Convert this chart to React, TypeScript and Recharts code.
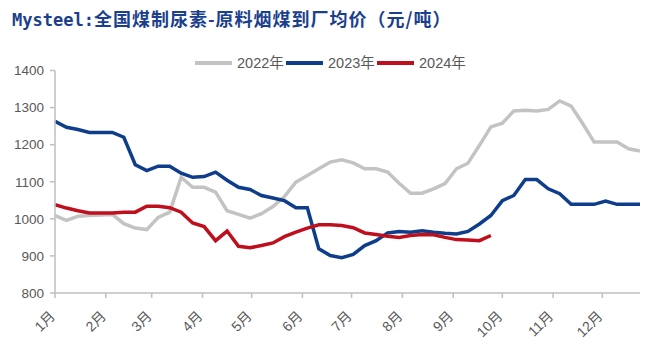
import React from 'react';
import { LineChart, Line, XAxis, YAxis, Legend } from 'recharts';

const seriesNames = ['2022年', '2023年', '2024年'];
const seriesColors = ['#c3c3c3', '#0e3d8c', '#c00f1c'];

const monthTicks = [0, 31, 59, 90, 120, 151, 181, 212, 243, 273, 304, 334];
const monthLabels = ['1月', '2月', '3月', '4月', '5月', '6月', '7月', '8月', '9月', '10月', '11月', '12月'];
const yTicks = [800, 900, 1000, 1100, 1200, 1300, 1400];

const v2022 = [
  1009, 996, 1007, 1009, 1010, 1012, 987, 975, 971, 1004,
  1018, 1112, 1085, 1085, 1072, 1022, 1012, 1002, 1014, 1033,
  1060, 1099, 1117, 1135, 1153, 1159, 1151, 1135, 1135, 1126,
  1096, 1069, 1069, 1081, 1095, 1135, 1150, 1198, 1248, 1258,
  1291, 1293, 1291, 1295, 1318, 1304, 1257, 1207, 1207, 1207,
  1189, 1183,
];

const v2023 = [
  1263, 1247, 1241, 1233, 1233, 1233, 1220, 1146, 1130, 1142,
  1142, 1123, 1112, 1114, 1126, 1104, 1085, 1079, 1063, 1056,
  1049, 1030, 1030, 919, 901, 895, 904, 928, 941, 962,
  966, 964, 968, 964, 961, 959, 966, 986, 1009, 1049,
  1063, 1106, 1106, 1081, 1068, 1039, 1039, 1039, 1048, 1039,
  1039, 1039,
];

const v2024 = [
  1038, 1029, 1022, 1016, 1016, 1016, 1018, 1018, 1034, 1034,
  1030, 1018, 989, 979, 941, 967, 926, 922, 928, 935,
  952, 964, 975, 984, 984, 982, 976, 962, 958, 953,
  950, 955, 958, 957, 950, 944, 943, 941, 955,
];

const data = v2022.map((_, i) => ({
  day: i * 7,
  y2022: v2022[i],
  y2023: v2023[i],
  y2024: i < v2024.length ? v2024[i] : null,
}));

const LABEL_FONT = '"Liberation Sans", "Noto Sans CJK SC", sans-serif';

const XTick = (props: any) => {
  const { x, y, payload } = props;
  const idx = monthTicks.indexOf(payload.value);
  const ax = x + 1;
  const ay = y + 17;
  return (
    <text
      x={ax}
      y={ay}
      transform={`rotate(-45 ${ax} ${ay})`}
      textAnchor="end"
      fontSize={14}
      fill="#595959"
      fontFamily={LABEL_FONT}
    >
      {monthLabels[idx]}
    </text>
  );
};

const LegendContent = (props: any) => {
  const { payload } = props;
  return (
    <div style={{ display: 'flex', justifyContent: 'flex-start', paddingLeft: 195 }}>
      {(payload || []).map((p: any, i: number) => (
        <div key={i} style={{ display: 'flex', alignItems: 'center', marginRight: 4 }}>
          <svg width={37} height={10} style={{ display: 'block' }}>
            <line x1={0} y1={5} x2={37} y2={5} stroke={p.color} strokeWidth={4} />
          </svg>
          <span
            style={{
              marginLeft: 5,
              fontSize: 14.5,
              color: '#595959',
              fontFamily: LABEL_FONT,
              lineHeight: '16px',
              width: 45,
              display: 'inline-block',
              whiteSpace: 'nowrap',
            }}
          >
            {p.value}
          </span>
        </div>
      ))}
    </div>
  );
};

export default function App() {
  return (
    <div style={{ position: 'absolute', left: 0, top: 0, width: 660, height: 352, background: '#ffffff' }}>
      <div
        style={{
          position: 'absolute',
          left: 12,
          top: 8,
          fontSize: 18,
          lineHeight: '20px',
          fontWeight: 'bold',
          color: '#1b3f8d',
          whiteSpace: 'nowrap',
          zIndex: 2,
        }}
      >
        <span style={{ fontFamily: '"DejaVu Sans Mono", monospace', fontSize: 17 }}>Mysteel:</span>
        <span style={{ fontFamily: '"Noto Sans CJK SC", sans-serif', letterSpacing: 1 }}>全国煤制尿素-原料烟煤到厂均价（元/吨）</span>
      </div>
      <LineChart
        width={660}
        height={352}
        data={data}
        margin={{ top: 70.5, right: 20, left: 0, bottom: 0 }}
      >
        <XAxis
          dataKey="day"
          type="number"
          domain={[0, 357]}
          ticks={monthTicks}
          interval={0}
          height={59}
          tick={<XTick />}
          tickSize={5}
          axisLine={{ stroke: '#bfbfbf', strokeWidth: 1.5 }}
          tickLine={{ stroke: '#bfbfbf', strokeWidth: 1.5 }}
          allowDataOverflow
        />
        <YAxis
          type="number"
          domain={[800, 1400]}
          ticks={yTicks}
          interval={0}
          width={55}
          tickSize={5}
          tickMargin={6}
          axisLine={{ stroke: '#bfbfbf', strokeWidth: 1.5 }}
          tickLine={{ stroke: '#bfbfbf', strokeWidth: 1.5 }}
          tick={{ fontSize: 13.5, fill: '#595959', fontFamily: LABEL_FONT }}
        />
        <Legend
          layout="horizontal"
          verticalAlign="middle"
          align="center"
          content={<LegendContent />}
          wrapperStyle={{ top: 55, left: 0, width: 660 }}
        />
        <Line
          type="linear"
          dataKey="y2022"
          name={seriesNames[0]}
          stroke={seriesColors[0]}
          strokeWidth={3.5}
          dot={false}
          isAnimationActive={false}
        />
        <Line
          type="linear"
          dataKey="y2023"
          name={seriesNames[1]}
          stroke={seriesColors[1]}
          strokeWidth={3.5}
          dot={false}
          isAnimationActive={false}
        />
        <Line
          type="linear"
          dataKey="y2024"
          name={seriesNames[2]}
          stroke={seriesColors[2]}
          strokeWidth={3.5}
          dot={false}
          isAnimationActive={false}
        />
      </LineChart>
    </div>
  );
}
